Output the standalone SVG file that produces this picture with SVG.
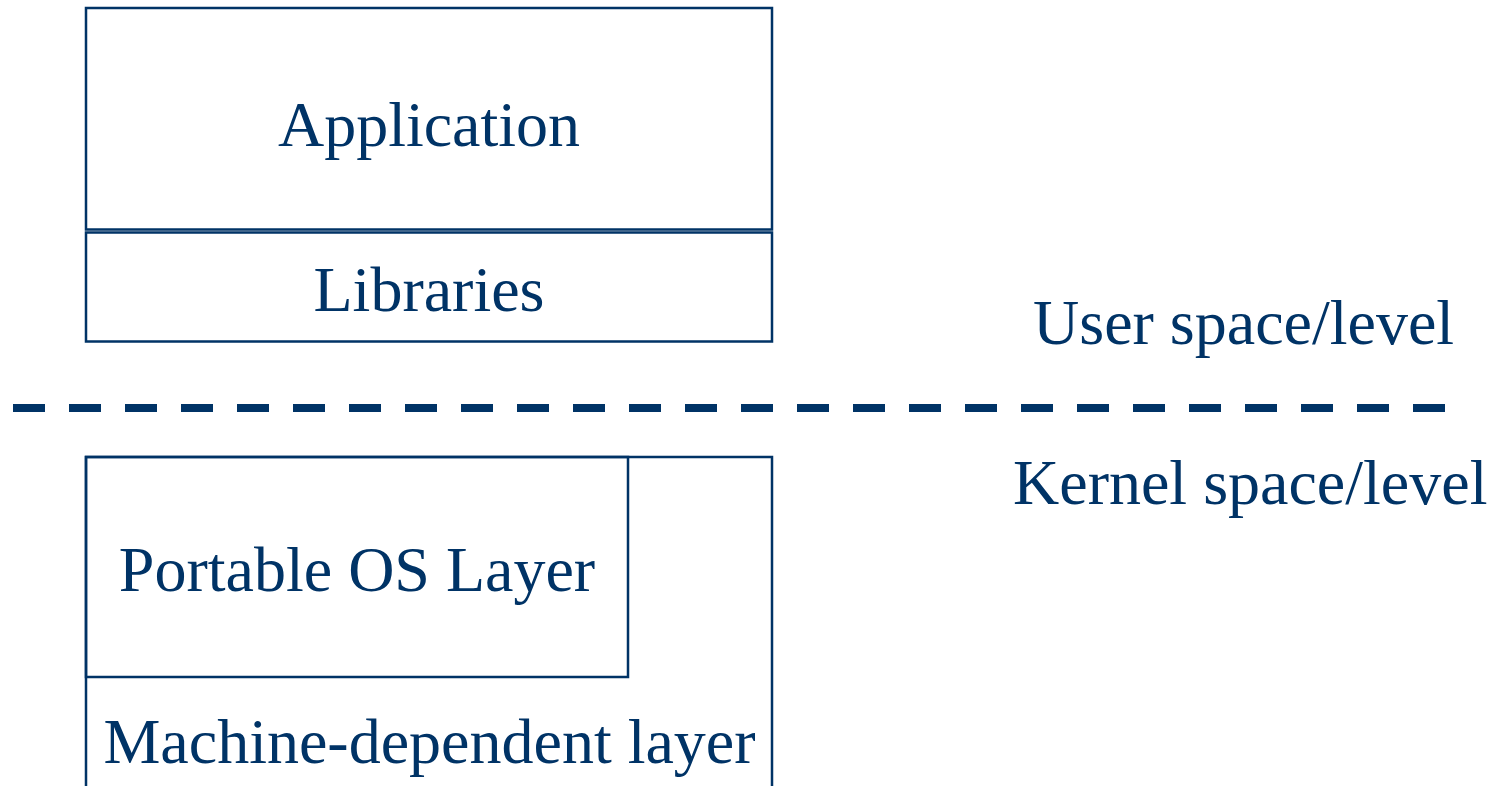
<svg xmlns="http://www.w3.org/2000/svg" width="1498" height="786" viewBox="0 0 1498 786">
<style>
.box{fill:none;stroke:#003366;stroke-width:2.5}
.t{font-family:"Liberation Serif","Times New Roman",serif;font-size:64px;fill:#003366}
.m{text-anchor:middle}
</style>
<rect width="1498" height="786" fill="#fff"/>
<g id="application"><rect class="box" x="86" y="8" width="686" height="221.5"/><text class="t m" x="429" y="146">Application</text></g>
<g id="libraries"><rect class="box" x="86" y="232.5" width="686" height="109"/><text class="t m" x="429" y="311">Libraries</text></g>
<g id="connectors"><line x1="13" y1="408" x2="1445" y2="408" stroke="#003366" stroke-width="8" stroke-dasharray="32 24"/></g>
<g id="user-label"><text class="t" x="1033" y="344">User space/level</text></g>
<g id="kernel-label"><text class="t" x="1013" y="504">Kernel space/level</text></g>
<g id="machine-layer"><rect class="box" x="86" y="457" width="686" height="340"/><text class="t m" x="429.5" y="763">Machine-dependent layer</text></g>
<g id="portable-os"><rect class="box" x="86" y="457" width="542" height="220"/><text class="t m" x="357" y="591">Portable OS Layer</text></g>
</svg>
